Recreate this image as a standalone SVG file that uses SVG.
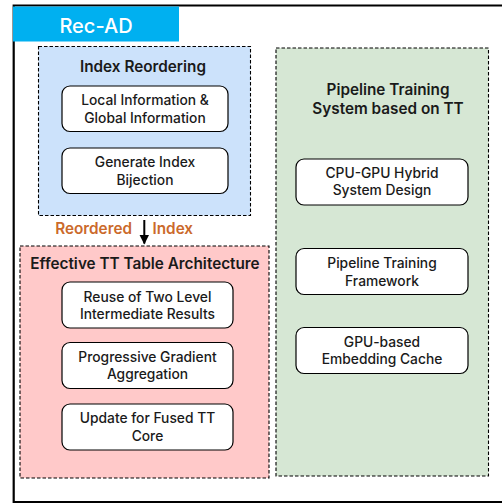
<svg xmlns="http://www.w3.org/2000/svg" width="502" height="504" viewBox="0 0 502 504">
<defs>
<style>
.frame{fill:none;stroke:#000;stroke-width:2.2}
.grp{stroke:#000;stroke-width:1.1;stroke-dasharray:3.5 2}
.node{fill:#fff;stroke:#000;stroke-width:1.2}
.t{font-family:Inter,"Noto Sans",sans-serif;fill:#1a1a1a;text-anchor:middle}
.nt{font-size:13.8px;font-weight:500}
.ht{font-size:15.3px;font-weight:600}
.ot{font-family:Inter,"Noto Sans",sans-serif;fill:#CB6A2B;font-size:15.3px;font-weight:600}
</style>
<marker id="ah" viewBox="0 0 10 10" refX="9" refY="5" markerWidth="10" markerHeight="10" markerUnits="userSpaceOnUse" orient="auto">
<path d="M0,0 L10,5 L0,10 Z" fill="#000"/>
</marker>
</defs>
<rect width="502" height="504" fill="#fff"/>
<g id="frame">
<path class="frame" d="M510,5.5 L13.7,5.5 L13.7,502 L510,502"/>
<rect x="13" y="6.5" width="166" height="35" fill="#00B0F0"/>
<text x="96" y="32.5" font-family="Inter,Noto Sans,sans-serif" font-size="20" font-weight="500" fill="#fff" text-anchor="middle">Rec-AD</text>
</g>
<g id="index-reordering">
<rect class="grp" x="38.5" y="46.5" width="212" height="169" fill="#CCE2FB"/>
<text class="t ht" x="143" y="72">Index Reordering</text>
</g>
<g id="local-global">
<rect class="node" x="62" y="86" width="166" height="45.5" rx="8"/>
<text class="t nt" x="145" y="105">Local Information &amp;<tspan x="145" dy="18">Global Information</tspan></text>
</g>
<g id="gen-index">
<rect class="node" x="62" y="148" width="166" height="45.5" rx="8"/>
<text class="t nt" x="145" y="167">Generate Index<tspan x="145" dy="18">Bijection</tspan></text>
</g>
<g id="tt-table">
<rect class="grp" x="20" y="246" width="249" height="232" fill="#FFC9C9"/>
<text class="t ht" x="145" y="268.5">Effective TT Table Architecture</text>
</g>
<g id="reuse">
<rect class="node" x="62" y="282" width="171" height="46" rx="8"/>
<text class="t nt" x="147.5" y="301.7">Reuse of Two Level<tspan x="147.5" dy="17.6">Intermediate Results</tspan></text>
</g>
<g id="progressive">
<rect class="node" x="62" y="342.5" width="171" height="46" rx="8"/>
<text class="t nt" x="147.5" y="361.7">Progressive Gradient<tspan x="147.5" dy="17.6">Aggregation</tspan></text>
</g>
<g id="update">
<rect class="node" x="62" y="404" width="171" height="46" rx="8"/>
<text class="t nt" x="147.5" y="423.3">Update for Fused TT<tspan x="147.5" dy="17.2">Core</tspan></text>
</g>
<g id="pipeline-system">
<rect class="grp" x="276" y="48" width="212.5" height="428" fill="#D6E7D4"/>
<text class="t ht" x="388" y="95">Pipeline Training<tspan x="388" dy="19">System based on TT</tspan></text>
</g>
<g id="cpu-gpu">
<rect class="node" x="296" y="159" width="172" height="46" rx="8"/>
<text class="t nt" x="382" y="177.5">CPU-GPU Hybrid<tspan x="382" dy="17.5">System Design</tspan></text>
</g>
<g id="pipeline-framework">
<rect class="node" x="296" y="248.5" width="172" height="46" rx="8"/>
<text class="t nt" x="382" y="268.3">Pipeline Training<tspan x="382" dy="17.7">Framework</tspan></text>
</g>
<g id="gpu-cache">
<rect class="node" x="296" y="327.5" width="172" height="46" rx="8"/>
<text class="t nt" x="382" y="346.7">GPU-based<tspan x="382" dy="17.3">Embedding Cache</tspan></text>
</g>
<g id="connectors">
<line x1="144.3" y1="220" x2="144.3" y2="243.5" stroke="#000" stroke-width="2" marker-end="url(#ah)"/>
<text class="ot" x="132" y="234.3" text-anchor="end">Reordered</text>
<text class="ot" x="152.5" y="234.3">Index</text>
</g>
</svg>
